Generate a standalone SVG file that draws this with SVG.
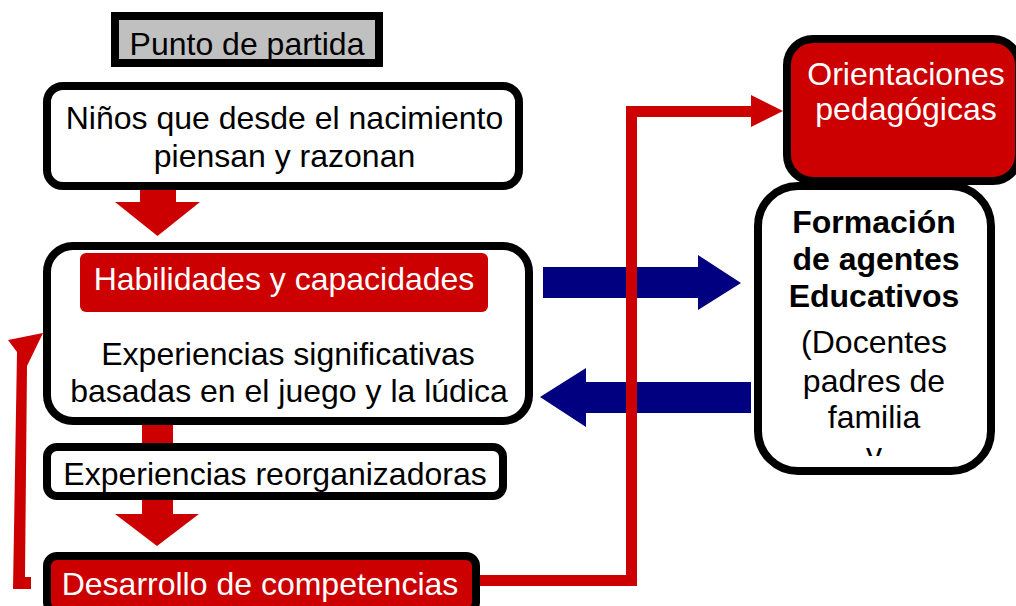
<svg xmlns="http://www.w3.org/2000/svg" width="1016" height="606" viewBox="0 0 1016 606">
  <defs>
    <style>
      .t { font-family: "Liberation Sans", Arial, sans-serif; font-size: 32px; text-anchor: middle; fill: #000; }
      .w { fill: #fff; }
      .b { font-weight: bold; }
      .box { fill: #fff; stroke: #000; stroke-width: 8; }
      .rbox { fill: #cc0000; stroke: #000; stroke-width: 8; }
      .red { fill: #cc0000; }
      .blue { fill: #000080; }
      .rline { fill: none; stroke: #cc0000; stroke-width: 11; }
    </style>
    <clipPath id="fclip">
      <rect x="750" y="180" width="250" height="276"/>
    </clipPath>
  </defs>
  <rect width="1016" height="606" fill="#fff"/>

  <g id="connectors">
    <polygon class="red" points="140,186 176,186 176,202 200,202 157.5,236 115,202 140,202"/>
    <rect class="red" x="142" y="420" width="31" height="30"/>
    <polygon class="red" points="142,496 173,496 173,514 199,514 157,546 115,514 142,514"/>
    <polygon class="blue" points="543,267 698,267 698,255 741,283 698,310 698,298 543,298"/>
    <polygon class="blue" points="751,382 586,382 586,368 540,397 586,427 586,413 751,413"/>
    <path class="rline" d="M478,580.5 H631.5 V111.5 H753"/>
    <polygon class="red" points="751,95 783,111 751,127"/>
    <polygon class="red" points="31,589 13,589 17,352 8,340 43,333 27,366 25,577 31,577"/>
  </g>

  <g id="punto">
    <rect x="115" y="16" width="264" height="47" fill="#c0c0c0" stroke="#000" stroke-width="8"/>
    <text class="t" x="247" y="55">Punto de partida</text>
  </g>

  <g id="ninos">
    <rect class="box" x="47" y="86" width="472" height="100" rx="16"/>
    <text class="t" x="284.5" y="129">Niños que desde el nacimiento</text>
    <text class="t" x="284.5" y="167">piensan y razonan</text>
  </g>

  <g id="habilidades">
    <rect class="box" x="47" y="246" width="482" height="175" rx="26"/>
    <rect class="red" x="80" y="253" width="408" height="59" rx="6"/>
    <text class="t w" x="284" y="290">Habilidades y capacidades</text>
    <text class="t" x="288" y="365">Experiencias significativas</text>
    <text class="t" x="289" y="402">basadas en el juego y la lúdica</text>
  </g>

  <g id="reorganizadoras">
    <rect class="box" x="47" y="447" width="456" height="49" rx="10"/>
    <text class="t" x="275" y="485">Experiencias reorganizadoras</text>
  </g>

  <g id="desarrollo">
    <rect class="rbox" x="47" y="556" width="429" height="56" rx="10"/>
    <text class="t w" x="260" y="595">Desarrollo de competencias</text>
  </g>

  <g id="formacion">
    <rect class="box" x="758" y="186" width="233" height="285" rx="40"/>
    <g clip-path="url(#fclip)">
      <text class="t b" x="874" y="233">Formación</text>
      <text class="t b" x="876" y="270">de agentes</text>
      <text class="t b" x="874" y="307">Educativos</text>
      <text class="t" x="874" y="353">(Docentes</text>
      <text class="t" x="874" y="392">padres de</text>
      <text class="t" x="874" y="428">familia</text>
      <text class="t" x="874" y="465">y</text>
    </g>
  </g>

  <g id="orientaciones">
    <rect class="rbox" x="787" y="39" width="232" height="142" rx="26"/>
    <text class="t w" x="906" y="85">Orientaciones</text>
    <text class="t w" x="906" y="120">pedagógicas</text>
  </g>
</svg>
